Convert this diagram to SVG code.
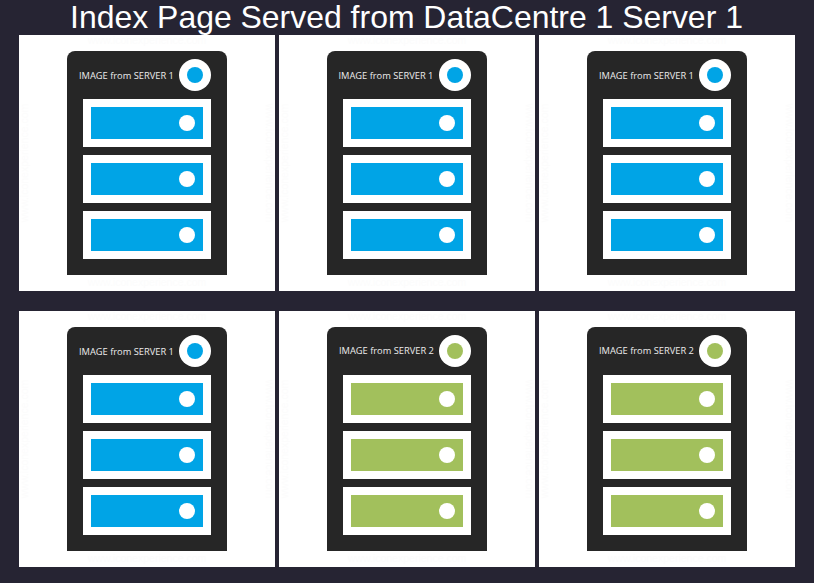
<svg xmlns="http://www.w3.org/2000/svg" width="814" height="583" viewBox="0 0 814 583">
<style>
.bg{fill:#262433}
.panel{fill:#fff}
.case{fill:#262626}
.slot,.dot{fill:#fff}
.b{fill:#00a4e6}
.g{fill:#a2c05c}
.wm{font:10.5px "Liberation Sans",sans-serif;fill:#fcfcfc;text-anchor:middle}
.lab{font:9.300px "Open Sans",sans-serif;fill:#ececec}
.title{font:31.950px "Liberation Sans",Arial,sans-serif;fill:#fff;text-anchor:middle}
</style>
<defs>
<g id="frame">
<rect class="panel" x="0" y="0" width="256" height="256"/>
<text class="wm" x="128" y="9">www.iconexperience.com</text>
<text class="wm" x="128" y="251">www.iconexperience.com</text>
<text class="wm" transform="translate(9 128) rotate(-90)">www.iconexperience.com</text>
<text class="wm" transform="translate(247 128) rotate(90)">www.iconexperience.com</text>
<path class="case" d="M56 16H200a8 8 0 0 1 8 8V240H48V24a8 8 0 0 1 8-8z"/>
<circle class="dot" cx="176" cy="40" r="16"/>
<rect class="slot" x="64" y="64" width="128" height="48"/>
<rect class="slot" x="64" y="120" width="128" height="48"/>
<rect class="slot" x="64" y="176" width="128" height="48"/>
</g>
<g id="dots">
<circle class="dot" cx="168" cy="88" r="8"/>
<circle class="dot" cx="168" cy="144" r="8"/>
<circle class="dot" cx="168" cy="200" r="8"/>
</g>
<g id="blue">
<use href="#frame"/>
<circle class="b" cx="176" cy="40" r="8"/>
<rect class="b" x="72" y="72" width="112" height="32"/>
<rect class="b" x="72" y="128" width="112" height="32"/>
<rect class="b" x="72" y="184" width="112" height="32"/>
<use href="#dots"/>
</g>
<g id="green">
<use href="#frame"/>
<circle class="g" cx="176" cy="40" r="8"/>
<rect class="g" x="72" y="72" width="112" height="32"/>
<rect class="g" x="72" y="128" width="112" height="32"/>
<rect class="g" x="72" y="184" width="112" height="32"/>
<use href="#dots"/>
</g>
</defs>
<rect class="bg" width="814" height="583"/>
<text class="title" x="406.500" y="28">Index Page Served from DataCentre 1 Server 1</text>
<g id="server-1" transform="translate(19 35)"><use href="#blue"/><text class="lab" x="60" y="44">IMAGE from SERVER 1</text></g>
<g id="server-2" transform="translate(279 35)"><use href="#blue"/><text class="lab" x="59.500" y="44">IMAGE from SERVER 1</text></g>
<g id="server-3" transform="translate(539 35)"><use href="#blue"/><text class="lab" x="60" y="44">IMAGE from SERVER 1</text></g>
<g id="server-4" transform="translate(19 311)"><use href="#blue"/><text class="lab" x="60" y="44">IMAGE from SERVER 1</text></g>
<g id="server-5" transform="translate(279 311)"><use href="#green"/><text class="lab" x="60" y="43">IMAGE from SERVER 2</text></g>
<g id="server-6" transform="translate(539 311)"><use href="#green"/><text class="lab" x="60" y="43">IMAGE from SERVER 2</text></g>
</svg>
